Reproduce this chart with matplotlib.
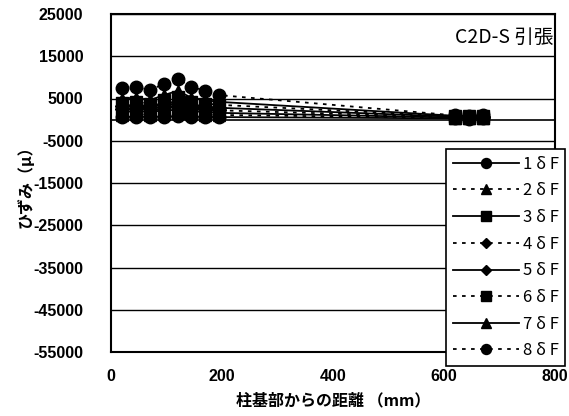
import matplotlib.pyplot as plt
import numpy as np

plt.rcParams['font.family'] = ['Liberation Sans', 'Noto Sans CJK JP', 'DejaVu Sans']
plt.rcParams['axes.unicode_minus'] = False

# distance from column base (mm)
x_left = [20, 45, 70, 95, 120, 145, 170, 195]
x_right = [620, 645, 670]
distance = x_left + x_right

labels = ['1 δ F', '2 δ F', '3 δ F', '4 δ F', '5 δ F', '6 δ F', '7 δ F', '8 δ F']

# strain (micro) per cycle
strain_1 = [600, 700, 650, 700, 750, 700, 650, 600, 300, 250, 300]
strain_2 = [1200, 1300, 1200, 1400, 1500, 1300, 1200, 1100, 400, 350, 400]
strain_3 = [1800, 2000, 1800, 2200, 2300, 2000, 1800, 1600, 500, 450, 500]
strain_4 = [2500, 2700, 2400, 3000, 3200, 2700, 2500, 2200, 600, 550, 600]
strain_5 = [3200, 3400, 3000, 3800, 4200, 3400, 3100, 2800, 700, 650, 700]
strain_6 = [4000, 4200, 3800, 4700, 5400, 4200, 3800, 3500, 800, 750, 800]
strain_7 = [5000, 5200, 4600, 5800, 6800, 5200, 4600, 4200, 900, 850, 900]
strain_8 = [7600, 7800, 6900, 8500, 9700, 7800, 6800, 5800, 1000, 950, 1000]
all_strain = [strain_1, strain_2, strain_3, strain_4,
              strain_5, strain_6, strain_7, strain_8]

markers = ['o', '^', 's', 'D', 'D', 's', '^', 'o']

fig = plt.figure(figsize=(5.69, 4.16), dpi=100)
ax = fig.add_axes([111 / 569, 1 - 352 / 416, 444 / 569, 338 / 416])

# gridlines and zero line
for yv in np.arange(-55000, 25001, 10000):
    ax.axhline(yv, color='black', lw=1.0, zorder=1)
ax.axhline(0, color='black', lw=1.2, zorder=1)

for i, ys in enumerate(all_strain):
    ls = '-' if i % 2 == 0 else (0, (2, 3))
    ms = 9 if markers[i] != 'D' else 7
    ax.plot(distance, ys, color='black', linestyle=ls, lw=1.3,
            marker=markers[i], markersize=ms, markerfacecolor='black',
            markeredgecolor='black', label=labels[i], zorder=3)

ax.set_xlim(0, 800)
ax.set_ylim(-55000, 25000)
ax.set_xticks([0, 200, 400, 600, 800])
ax.set_yticks(np.arange(-55000, 25001, 10000))
ax.tick_params(axis='y', length=0, pad=20, labelsize=11.5)
ax.tick_params(axis='x', length=0, pad=12, labelsize=11.5)
for lab in ax.get_xticklabels() + ax.get_yticklabels():
    lab.set_fontweight('bold')
for sp in ax.spines.values():
    sp.set_linewidth(1.5)

ax.set_xlabel('柱基部からの距離 （mm）', fontsize=11.5, fontweight='bold',
              family=['Noto Sans CJK JP'], labelpad=6)
ax.set_ylabel('ひずみ（μ）', fontsize=11.5, fontweight='bold',
              family=['Noto Sans CJK JP'], labelpad=0)

ax.text(0.885, 0.93, 'C2D-S 引張', transform=ax.transAxes, ha='center',
        va='center', fontsize=14, family=['Noto Sans CJK JP'])

leg = ax.legend(loc='upper left', bbox_to_anchor=(446 / 569, 1 - 149 / 416),
                bbox_transform=fig.transFigure, handlelength=4.0,
                handletextpad=0.2, labelspacing=0.58, markerscale=0.8,
                fancybox=False, framealpha=1, edgecolor='black',
                borderpad=0.4, borderaxespad=0,
                prop={'family': ['Noto Sans CJK JP'], 'size': 12})
leg.get_frame().set_linewidth(1.2)

fig.savefig('out.png', dpi=100)
